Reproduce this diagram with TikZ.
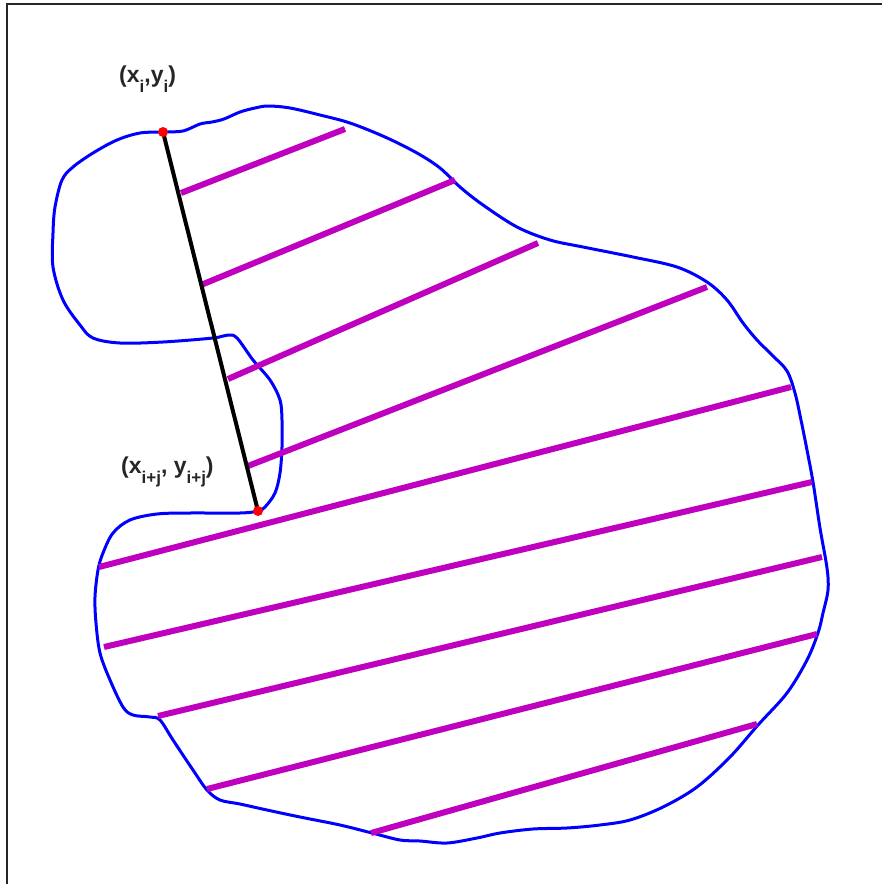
\documentclass[tikz,border=0pt]{standalone}
\usepackage{fontspec}
\setmainfont{Liberation Sans}
\newcommand{\lowsub}[1]{\raisebox{-10pt}{\fontsize{17}{20}\selectfont #1}}
\begin{document}
\begin{tikzpicture}[x=1pt,y=-1pt,
  frame/.style={line width=1.5pt,black!85},
  contour/.style={blue,line width=3pt},
  chord/.style={line width=6pt,color=magchord},
  seg/.style={black,line width=4pt},
  dot/.style={fill=red,draw=none},
  lbl/.style={font=\fontsize{23}{27}\selectfont\bfseries,text=black!85,inner sep=0pt,anchor=base west}]
\definecolor{magchord}{RGB}{191,0,191}
\useasboundingbox (0,0) rectangle (882,884);
\fill[white] (0,0) rectangle (882,884);
\draw[frame] (7,884) -- (7,4) -- (882,4);
% contour
\draw[contour] plot[smooth cycle,tension=0.55] coordinates {
(163,132) (183,131) (200,124) (212,122) (224,119) (240,112) (255,108) (268,106)
(290,108) (320,115) (350,123) (385,137) (417,153) (440,168) (460,187) (483,205)
(517,227) (550,240) (583,247) (633,257) (677,267) (707,282) (727,300) (743,323)
(757,340) (773,356) (787,371) (795,393) (801,420) (807,450) (813,482) (820,528)
(827,568) (828,590) (823,613) (818,633) (807,660) (787,693) (758,725) (730,757)
(697,787) (663,807) (630,820) (600,825) (567,828) (533,829) (500,833) (477,838)
(447,843) (420,841) (400,840) (372,833) (340,825) (300,817) (267,810) (240,804)
(220,800) (207,790) (193,770) (173,740) (160,720) (150,717) (133,715) (123,707)
(110,680) (100,653) (96,623) (95,597) (98,570) (103,553) (113,533) (130,520)
(157,514) (190,513) (240,513) (258,511) (265,507) (275,493) (280,473) (282,447)
(282,420) (280,400) (270,380) (253,360) (237,338) (228,335) (213,338) (163,342)
(120,343) (93,338) (80,325) (63,300) (53,267) (53,233) (55,207) (62,180)
(73,167) (93,153) (117,140) (140,133)};
% chords
\draw[chord] (181,193) -- (345,129);
\draw[chord] (201,285) -- (455,180);
\draw[chord] (228,379) -- (538,243);
\draw[chord] (248,466) -- (707,287);
\draw[chord] (99,567) -- (791,387);
\draw[chord] (104,647) -- (812,482);
\draw[chord] (158,716) -- (822,557);
\draw[chord] (207,789) -- (817,634);
\draw[chord] (371,833) -- (757,724);
% segment
\coordinate (P1) at (163,132);
\coordinate (P2) at (258,511);
\draw[seg] (P1) -- (P2);
\fill[dot] (P1) circle (5);
\fill[dot] (P2) circle (5);
% labels
\node[lbl] (L1) at (119,82) {(x\lowsub{i},y\lowsub{i})};
\node[lbl] (L2) at (121,473) {(x\lowsub{i+j}, y\lowsub{i+j})};
\end{tikzpicture}
\end{document}
